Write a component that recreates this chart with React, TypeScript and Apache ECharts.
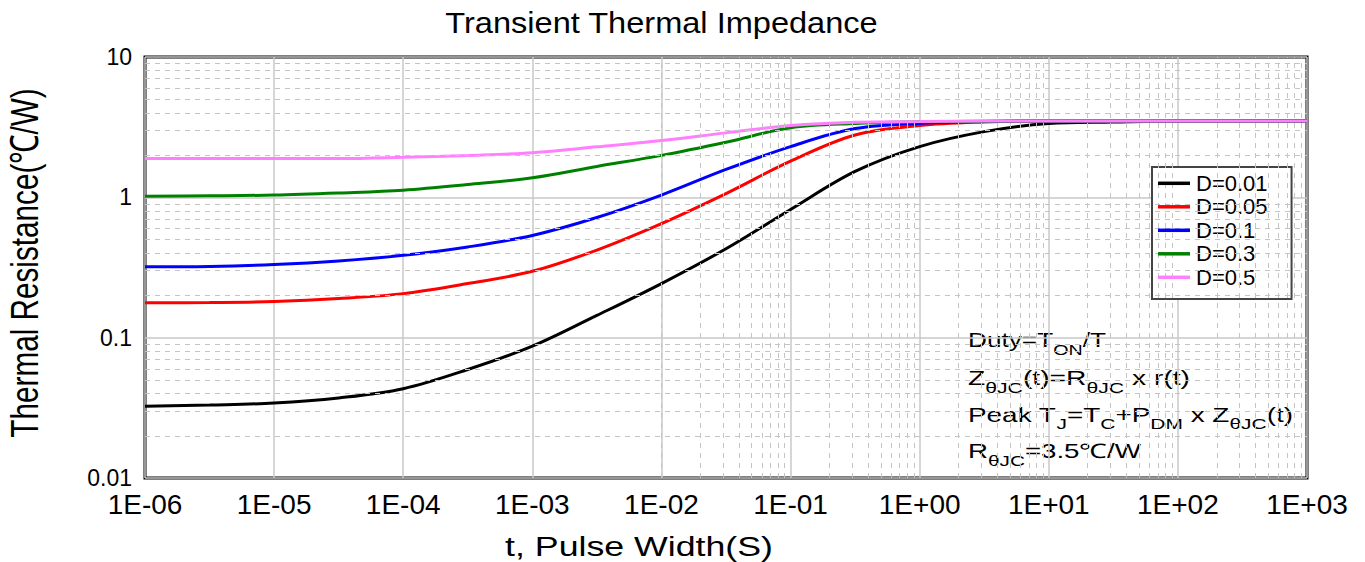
import React, { useEffect, useRef } from 'react';
import * as echarts from 'echarts';

const FONT = '"Liberation Sans", Arial, Helvetica, sans-serif';

// Pulse width (s)
const pulseWidth = [1e-6, 3.16e-6, 1e-5, 3.16e-5, 1e-4, 3.16e-4, 1e-3, 3.16e-3, 1e-2, 3.16e-2, 0.1, 0.316, 1, 3.16, 10, 31.6, 100, 316, 1000];
// Thermal resistance (°C/W) per duty cycle
const d001 = [0.0324, 0.0331, 0.0342, 0.0372, 0.0433, 0.0593, 0.0869, 0.144, 0.243, 0.43, 0.82, 1.53, 2.3, 2.94, 3.36, 3.44, 3.5, 3.5, 3.5];
const d005 = [0.177, 0.178, 0.181, 0.19, 0.206, 0.243, 0.297, 0.421, 0.65, 1.064, 1.81, 2.78, 3.25, 3.44, 3.5, 3.5, 3.5, 3.5, 3.5];
const d01 = [0.3196, 0.322, 0.332, 0.352, 0.386, 0.443, 0.535, 0.718, 1.038, 1.58, 2.3, 3.09, 3.36, 3.47, 3.5, 3.5, 3.5, 3.5, 3.5];
const d03 = [1.018, 1.025, 1.038, 1.074, 1.124, 1.233, 1.377, 1.659, 1.99, 2.47, 3.13, 3.36, 3.45, 3.49, 3.5, 3.5, 3.5, 3.5, 3.5];
const d05 = [1.891, 1.891, 1.891, 1.891, 1.93, 1.99, 2.08, 2.29, 2.54, 2.88, 3.25, 3.43, 3.47, 3.5, 3.5, 3.5, 3.5, 3.5, 3.5];

const seriesNames = ['D=0.01', 'D=0.05', 'D=0.1', 'D=0.3', 'D=0.5'];
const seriesValues = [d001, d005, d01, d03, d05];
const seriesColors = ['#000000', '#ff0000', '#0000ff', '#008000', '#ff80ff'];

const xTickLabels = ['1E-06', '1E-05', '1E-04', '1E-03', '1E-02', '1E-01', '1E+00', '1E+01', '1E+02', '1E+03'];
const yTickLabels = ['0.01', '0.1', '1', '10'];

const titleText = 'Transient Thermal Impedance';
const xName = 't, Pulse Width(S)';
const yName = 'Thermal Resistance(℃/W)';

// annotation lines: [text, isSubscript]
const noteLines: Array<Array<[string, boolean]>> = [
  [['Duty=T', false], ['ON', true], ['/T', false]],
  [['Z', false], ['θJC', true], ['(t)=R', false], ['θJC', true], [' x r(t)', false]],
  [['Peak T', false], ['J', true], ['=T', false], ['C', true], ['+P', false], ['DM', true], [' x Z', false], ['θJC', true], ['(t)', false]],
  [['R', false], ['θJC', true], ['=3.5℃/W', false]],
];

let measureCtx: CanvasRenderingContext2D | null = null;
function measure(text: string, size: number): number {
  if (!measureCtx) {
    const c = document.createElement('canvas');
    measureCtx = c.getContext('2d');
  }
  if (!measureCtx) return text.length * size * 0.55;
  measureCtx.font = `${size}px ${FONT}`;
  return measureCtx.measureText(text).width;
}

function richLine(segs: Array<[string, boolean]>, left: number, baseline: number, width: number) {
  const main = 20;
  const sub = 15;
  const drop = 8;
  let x = 0;
  const children: any[] = [];
  for (const [t, isSub] of segs) {
    const fs = isSub ? sub : main;
    children.push({
      type: 'text',
      x,
      y: isSub ? drop - 0.35 * fs : -0.35 * fs,
      style: { text: t, fontSize: fs, fontFamily: FONT, fill: '#000', align: 'left', verticalAlign: 'middle' },
    });
    x += measure(t, fs);
  }
  return { type: 'group', x: left, y: baseline, scaleX: width / x, children, silent: true };
}

function scaledText(text: string, cx: number, cy: number, fs: number, width: number, rotation = 0) {
  const w = measure(text, fs);
  return {
    type: 'group',
    x: cx,
    y: cy,
    rotation,
    silent: true,
    children: [
      {
        type: 'group',
        scaleX: width / w,
        children: [
          { type: 'text', x: 0, y: 0, style: { text, fontSize: fs, fontFamily: FONT, fill: '#000', align: 'center', verticalAlign: 'middle' } },
        ],
      },
    ],
  };
}

export default function App() {
  const ref = useRef<HTMLDivElement>(null);
  useEffect(() => {
    document.body.style.margin = '0';
    if (!ref.current) return;
    const chart = echarts.init(ref.current, undefined, { renderer: 'svg' });

    const minorX: any[] = [];
    for (let e = -6; e < 3; e++) for (let k = 2; k <= 9; k++) minorX.push({ xAxis: k * Math.pow(10, e) });
    const minorY: any[] = [];
    for (let e = -2; e < 1; e++) for (let k = 2; k <= 9; k++) minorY.push({ yAxis: k * Math.pow(10, e) });

    const gridSeries = {
      type: 'line',
      name: 'minor-grid',
      data: [],
      silent: true,
      markLine: {
        silent: true,
        symbol: ['none', 'none'],
        label: { show: false },
        lineStyle: { type: [5, 5], color: '#c4c4c4', width: 1 },
        emphasis: { disabled: true },
        animation: false,
        data: [...minorX, ...minorY],
      },
    };

    const lines = seriesNames.map((name, i) => ({
      type: 'line',
      name,
      data: pulseWidth.map((t, j) => [t, seriesValues[i][j]]),
      smooth: 0.35,
      showSymbol: false,
      symbol: 'none',
      lineStyle: { color: seriesColors[i], width: 3 },
      itemStyle: { color: seriesColors[i] },
      z: 3,
    }));

    // legend swatches (solid line icons), placed on the legend's rows
    const legendTop = 167;
    const legendPadTop = 5;
    const legendRow = 23.5;
    const swatches = seriesColors.map((c, i) => ({
      type: 'line',
      z: 100,
      silent: true,
      shape: { x1: 1158, y1: legendTop + legendPadTop + 11.3 + i * legendRow, x2: 1190, y2: legendTop + legendPadTop + 11.3 + i * legendRow },
      style: { stroke: c, lineWidth: 3.5 },
    }));

    const option: any = {
      animation: false,
      backgroundColor: '#ffffff',
      grid: { left: 145, right: 58, top: 57, bottom: 84, show: true, borderColor: '#000', borderWidth: 3, backgroundColor: 'transparent' },
      xAxis: {
        type: 'log',
        logBase: 10,
        min: 1e-6,
        max: 1e3,
        axisLine: { show: false },
        axisTick: { show: false },
        axisLabel: {
          fontSize: 28,
          fontFamily: FONT,
          color: '#000',
          margin: 12,
          showMinLabel: true,
          showMaxLabel: true,
          formatter: (v: number) => xTickLabels[Math.round(Math.log10(v)) + 6],
        },
        splitLine: { show: true, lineStyle: { color: '#c8c8c8', width: 1.5 } },
      },
      yAxis: {
        type: 'log',
        logBase: 10,
        min: 0.01,
        max: 10,
        axisLine: { show: false },
        axisTick: { show: false },
        axisLabel: {
          fontSize: 23,
          fontFamily: FONT,
          color: '#000',
          margin: 13,
          showMinLabel: true,
          showMaxLabel: true,
          formatter: (v: number) => yTickLabels[Math.round(Math.log10(v)) + 2],
        },
        splitLine: { show: true, lineStyle: { color: '#c8c8c8', width: 1.5 } },
      },
      legend: {
        data: seriesNames,
        orient: 'vertical',
        left: 1152,
        top: legendTop,
        padding: [legendPadTop, 24, 11, 6],
        itemGap: 1.5,
        itemWidth: 32,
        itemHeight: 14,
        itemStyle: { opacity: 0 },
        lineStyle: { opacity: 0 },
        borderColor: '#444',
        borderWidth: 2,
        borderRadius: 0,
        backgroundColor: '#fff',
        textStyle: { fontSize: 22, fontFamily: FONT, color: '#000' },
        selectedMode: false,
      },
      series: [gridSeries, ...lines],
      graphic: [
        scaledText(titleText, 661.5, 22.8, 30, 433),
        scaledText(xName, 639, 546.9, 28, 268),
        scaledText(yName, 24.8, 263, 39, 350, Math.PI / 2),
        richLine(noteLines[0], 968, 346.7, 138),
        richLine(noteLines[1], 968, 385, 222),
        richLine(noteLines[2], 968, 421.7, 325),
        richLine(noteLines[3], 968, 458.3, 173),
        ...swatches,
      ],
    };
    chart.setOption(option);
    return () => chart.dispose();
  }, []);
  return <div ref={ref} style={{ width: 1365, height: 562 }} />;
}
